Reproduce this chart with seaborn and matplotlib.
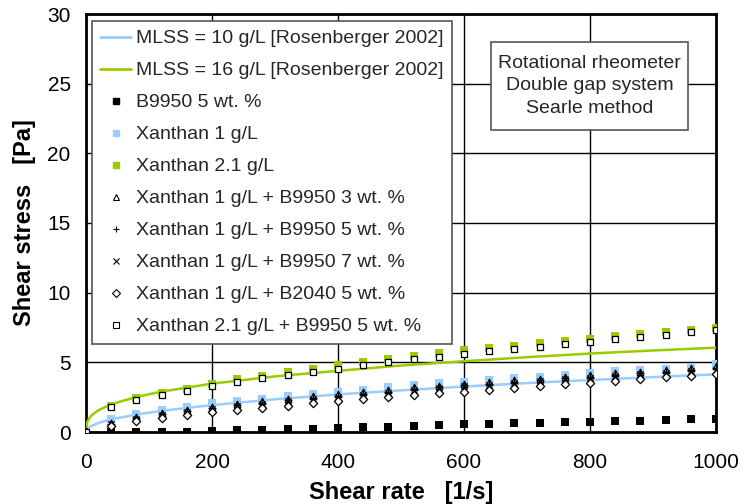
import matplotlib
matplotlib.use("Agg")
import matplotlib.pyplot as plt
from matplotlib.lines import Line2D
from matplotlib.patches import Rectangle
import seaborn as sns
import pandas as pd

# Shear rates of the measured points [1/s]
shear_rate = [0, 40, 80, 120, 160, 200, 240, 280, 320, 360, 400, 440, 480,
              520, 560, 600, 640, 680, 720, 760, 800, 840, 880, 920, 960, 1000]

# Measured shear stress [Pa]
b9950_5 = [0, 0, 0, 0, 0.02, 0.08, 0.11, 0.15, 0.2, 0.25, 0.3, 0.35, 0.39,
           0.43, 0.48, 0.54, 0.57, 0.62, 0.66, 0.69, 0.72, 0.77, 0.81, 0.85, 0.9, 0.95]
xanthan_1 = [0, 0.9, 1.3, 1.55, 1.8, 2.05, 2.25, 2.4, 2.6, 2.75, 2.9, 3.05, 3.2,
             3.35, 3.5, 3.6, 3.75, 3.85, 3.95, 4.1, 4.2, 4.35, 4.45, 4.55, 4.7, 4.85]
xanthan_21 = [0, 1.9, 2.42, 2.78, 3.12, 3.45, 3.78, 4.02, 4.28, 4.52, 4.78, 5.0, 5.22,
              5.45, 5.65, 5.85, 6.02, 6.2, 6.37, 6.55, 6.7, 6.86, 7.0, 7.16, 7.32, 7.5]
x1_b9950_3 = [0, 0.65, 1.05, 1.35, 1.58, 1.8, 2.0, 2.2, 2.38, 2.55, 2.7, 2.85, 3.0,
              3.2, 3.33, 3.45, 3.58, 3.7, 3.82, 3.95, 4.07, 4.2, 4.33, 4.45, 4.58, 4.72]
x1_b9950_5 = [0, 0.6, 0.98, 1.27, 1.5, 1.72, 1.92, 2.1, 2.28, 2.45, 2.6, 2.75, 2.9,
              3.1, 3.22, 3.35, 3.48, 3.6, 3.72, 3.85, 3.97, 4.1, 4.22, 4.34, 4.46, 4.58]
x1_b9950_7 = [0, 0.55, 0.92, 1.2, 1.43, 1.65, 1.85, 2.03, 2.2, 2.37, 2.52, 2.67, 2.82,
              3.02, 3.14, 3.27, 3.4, 3.52, 3.64, 3.77, 3.89, 4.01, 4.13, 4.25, 4.37, 4.48]
x1_b2040_5 = [0, 0.45, 0.8, 1.0, 1.2, 1.4, 1.6, 1.75, 1.9, 2.05, 2.2, 2.35, 2.5,
              2.65, 2.78, 2.9, 3.05, 3.18, 3.3, 3.42, 3.54, 3.66, 3.8, 3.92, 4.04, 4.15]
x21_b9950_5 = [0, 1.8, 2.3, 2.62, 2.95, 3.3, 3.6, 3.85, 4.1, 4.3, 4.55, 4.78, 5.0,
               5.22, 5.41, 5.6, 5.79, 5.96, 6.13, 6.29, 6.46, 6.65, 6.82, 6.99, 7.16, 7.32]

# Literature curves (Rosenberger 2002)
lit_rate = [0, 2, 5, 10, 20, 40, 80, 120, 200, 300, 400, 500, 600, 700, 800, 900, 1000]
mlss_10 = [0, 0.22, 0.34, 0.47, 0.65, 0.91, 1.25, 1.52, 1.93, 2.35, 2.7, 2.99,
           3.26, 3.51, 3.73, 3.94, 4.14]
mlss_16 = [0, 0.71, 0.98, 1.24, 1.57, 1.99, 2.52, 2.9, 3.47, 3.99, 4.39, 4.77,
           5.08, 5.37, 5.63, 5.85, 6.05]

info_text = "Rotational rheometer\nDouble gap system\nSearle method"

sns.set_theme(style="white")
plt.rcParams["font.family"] = ["Liberation Sans", "DejaVu Sans"]

BLUE = "#99CCFF"
GREEN = "#99CC00"

fig = plt.figure(figsize=(7.51, 5.04), dpi=100)
ax = fig.add_axes([86 / 751, 1 - 432 / 504, 630 / 751, 418 / 504])

lines = pd.DataFrame({"rate": lit_rate, "m10": mlss_10, "m16": mlss_16})
meas = pd.DataFrame({
    "rate": shear_rate, "b9950": b9950_5, "x1": xanthan_1, "x21": xanthan_21,
    "x1b3": x1_b9950_3, "x1b5": x1_b9950_5, "x1b7": x1_b9950_7,
    "x1b2040": x1_b2040_5, "x21b5": x21_b9950_5,
})

ms = 26
sns.scatterplot(data=meas, x="rate", y="b9950", marker="s", color="black",
                s=ms, linewidth=0, ax=ax, zorder=3)
sns.scatterplot(data=meas, x="rate", y="x1", marker="s", color=BLUE,
                s=ms, linewidth=0, ax=ax, zorder=3)
sns.scatterplot(data=meas, x="rate", y="x21", marker="s", color=GREEN,
                s=ms, linewidth=0, ax=ax, zorder=3)

sns.lineplot(data=lines, x="rate", y="m10", color=BLUE, linewidth=1.8, ax=ax, zorder=4)
sns.lineplot(data=lines, x="rate", y="m16", color=GREEN, linewidth=1.8, ax=ax, zorder=4)

sns.scatterplot(data=meas, x="rate", y="x1b3", marker="^", facecolor="white",
                edgecolor="black", s=22, linewidth=0.9, ax=ax, zorder=5)
sns.scatterplot(data=meas, x="rate", y="x1b5", marker="+", color="black",
                s=28, linewidth=1.0, ax=ax, zorder=5)
sns.scatterplot(data=meas, x="rate", y="x1b7", marker="x", color="black",
                s=20, linewidth=1.0, ax=ax, zorder=5)
sns.scatterplot(data=meas, x="rate", y="x1b2040", marker="D", facecolor="white",
                edgecolor="black", s=18, linewidth=0.9, ax=ax, zorder=5)
sns.scatterplot(data=meas, x="rate", y="x21b5", marker="s", facecolor="white",
                edgecolor="black", s=24, linewidth=0.9, ax=ax, zorder=5)

ax.set_xlim(0, 1000)
ax.set_ylim(0, 30)
ax.set_xticks([0, 200, 400, 600, 800, 1000])
ax.set_yticks([0, 5, 10, 15, 20, 25, 30])
ax.grid(True, color="black", linewidth=1.0)
ax.set_axisbelow(True)
ax.tick_params(axis="both", length=0, labelsize=15, colors="black")
ax.tick_params(axis="x", pad=15)
ax.tick_params(axis="y", pad=11)
for sp in ax.spines.values():
    sp.set_color("black")
    sp.set_linewidth(2)

ax.set_xlabel("Shear rate   [1/s]", fontsize=17, fontweight="bold", color="black", labelpad=6.5)
ax.set_ylabel("Shear stress   [Pa]", fontsize=17, fontweight="bold", color="black", labelpad=8)

handles = [
    Line2D([], [], color=BLUE, lw=2),
    Line2D([], [], color=GREEN, lw=2),
    Line2D([], [], ls="none", marker="s", color="black", ms=5),
    Line2D([], [], ls="none", marker="s", color=BLUE, ms=5),
    Line2D([], [], ls="none", marker="s", color=GREEN, ms=5),
    Line2D([], [], ls="none", marker="^", mfc="white", mec="black", ms=5, mew=0.8),
    Line2D([], [], ls="none", marker="+", color="black", ms=5, mew=0.8),
    Line2D([], [], ls="none", marker="x", color="black", ms=4.5, mew=0.8),
    Line2D([], [], ls="none", marker="D", mfc="white", mec="black", ms=4.5, mew=0.8),
    Line2D([], [], ls="none", marker="s", mfc="white", mec="black", ms=5, mew=0.8),
]
labels = [
    "MLSS = 10 g/L [Rosenberger 2002]",
    "MLSS = 16 g/L [Rosenberger 2002]",
    "B9950 5 wt. %",
    "Xanthan 1 g/L",
    "Xanthan 2.1 g/L",
    "Xanthan 1 g/L + B9950 3 wt. %",
    "Xanthan 1 g/L + B9950 5 wt. %",
    "Xanthan 1 g/L + B9950 7 wt. %",
    "Xanthan 1 g/L + B2040 5 wt. %",
    "Xanthan 2.1 g/L + B9950 5 wt. %",
]
leg = ax.legend(handles, labels, loc="upper left", bbox_to_anchor=(5.5 / 630, 1 - 7 / 418),
                fontsize=14, frameon=True, fancybox=False, framealpha=1,
                edgecolor="#555555", handlelength=1.6, handletextpad=0.25,
                labelspacing=0.74, borderpad=0.45, borderaxespad=0)
leg.get_frame().set_linewidth(1.2)
leg.set_zorder(10)

# Measurement set-up note in a framed box (axes coordinates)
ax.add_patch(Rectangle((405 / 630, 302 / 418), 197 / 630, 88 / 418,
                       transform=ax.transAxes, facecolor="white",
                       edgecolor="#555555", linewidth=1.2, zorder=9))
ax.text(503.5 / 630, 346 / 418, info_text, transform=ax.transAxes,
        ha="center", va="center", fontsize=14, linespacing=1.43, zorder=10)

fig.savefig("out.png", dpi=100)
